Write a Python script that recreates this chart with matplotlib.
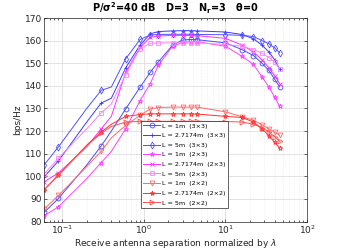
import matplotlib
matplotlib.use('Agg')
import matplotlib.pyplot as plt
from matplotlib.ticker import LogLocator, NullFormatter, MultipleLocator

# receive antenna separation normalized by lambda
x = [0.06, 0.09, 0.2, 0.3, 0.4, 0.6, 0.9, 1.2, 1.5, 2.25, 3, 3.75, 4.5,
     10, 16, 22, 28, 34, 40, 46]

# capacity in bps/Hz
blue_1m = [84, 90.2, 105, 113.4, 120, 129.8, 139.4, 146, 150.5, 158, 160.3, 160.5, 160.4,
           159, 156, 153.4, 150, 146.8, 143, 139.5]
blue_27 = [99.7, 106.8, 124, 132.4, 134.5, 148, 158, 163, 164, 164.3, 164.4, 164.4, 164.3,
           163.8, 162.7, 160.8, 158, 155, 151.5, 147.5]
blue_5m = [105, 113, 130, 138, 139.5, 152, 160.5, 162.5, 162.7, 162.8, 162.8, 162.8, 162.7,
           162.6, 162.3, 161.8, 160, 158.6, 156.8, 154.6]
mag_1m = [82.5, 86.5, 99, 106, 111, 121, 133.5, 141, 149, 157.5, 159.3, 159.5, 159.5,
          157.5, 153, 149.5, 144, 139.5, 135, 131]
mag_27 = [97.5, 101.5, 113, 121, 126.5, 146, 157, 161.5, 162, 162.3, 162.3, 162.3, 162.2,
          161, 158, 155, 151.5, 148, 144.5, 141]
mag_5m = [101, 108, 121, 128, 132, 145, 156.5, 158.8, 159, 159, 159, 159, 159,
          158.3, 157.5, 156, 154.5, 152.5, 150.5, 147.5]
red_1m = [85.5, 91.5, 104.3, 111, 117, 122.5, 127, 129.8, 130.4, 130.6, 130.6, 130.6, 130.6,
          128.5, 126.3, 124.8, 122.8, 121, 119.5, 118.2]
red_27 = [94, 100.5, 113.8, 119.5, 123, 126.5, 127.3, 127.6, 127.6, 127.6, 127.6, 127.6, 127.5,
          126.5, 126, 124, 121, 118, 115, 112.5]
red_5m = [94, 100.5, 113.5, 119, 122, 124, 124.3, 124.3, 124.3, 124.3, 124.3, 124.3, 124.3,
          124.2, 124, 123, 121.5, 119.5, 117.5, 115.5]

labels = ['L = 1m  (3\u00d73)', 'L = 2.7174m  (3\u00d73)', 'L = 5m  (3\u00d73)',
          'L = 1m  (2\u00d73)', 'L = 2.7174m  (2\u00d73)', 'L = 5m  (2\u00d73)',
          'L = 1m  (2\u00d72)', 'L = 2.7174m  (2\u00d72)', 'L = 5m  (2\u00d72)']
series = [blue_1m, blue_27, blue_5m, mag_1m, mag_27, mag_5m, red_1m, red_27, red_5m]

styles = [('#4a4aff', 'o'), ('#3a3aff', '+'), ('#5050ff', 'd'),
          ('#ff40ff', '*'), ('#ff30ff', 'x'), ('#ff80ff', 's'),
          ('#ff6a6a', 'v'), ('#ff3030', '*'), ('#ff5050', '>')]

fig = plt.figure(figsize=(3.39, 2.5), dpi=100)
ax = fig.add_axes([0.13, 0.114, 0.776, 0.814])

marks = [0, 1, 3, 5, 6, 7, 8, 9, 10, 11, 12, 13, 14, 15, 16, 17, 18, 19]
for y, lab, (c, m) in zip(series, labels, styles):
    ax.semilogx(x, y, color=c, marker=m, markersize=3.5, markerfacecolor='none',
                markeredgewidth=0.6, linewidth=0.7, label=lab, markevery=marks)

ax.set_xlim(0.06, 100)
ax.set_ylim(80, 170)
ax.yaxis.set_major_locator(MultipleLocator(10))
ax.xaxis.set_major_locator(LogLocator(base=10, numticks=10))
ax.xaxis.set_minor_locator(LogLocator(base=10, subs=range(2, 10), numticks=20))
ax.xaxis.set_minor_formatter(NullFormatter())

ax.grid(True, which='major', color='#d8d8d8', linewidth=0.5)
ax.grid(True, which='minor', axis='x', color='#e0e0e0', linewidth=0.4, linestyle=':')
ax.tick_params(which='both', direction='in', top=True, right=True,
               labelsize=6.5, colors='#262626', length=2.5, width=0.5, pad=1.5)
ax.tick_params(which='minor', length=1.5)
for sp in ax.spines.values():
    sp.set_linewidth(0.5)
    sp.set_color('#262626')

ax.set_xlabel('Receive antenna separation normalized by $\\lambda$', fontsize=6.5,
              color='#262626', labelpad=0.5)
ax.set_ylabel('bps/Hz', fontsize=6.5, color='#262626', labelpad=2)
ax.set_title('P/$\\mathbf{\\sigma^2}$=40 dB   D=3   N$_\\mathbf{r}$=3   $\\mathbf{\\theta}$=0',
             fontsize=7, fontweight='bold', pad=4)

leg = ax.legend(loc='lower left', bbox_to_anchor=(0.355, 0.05), fontsize=4.6,
                frameon=True, fancybox=False, edgecolor='#262626', framealpha=1,
                handlelength=2.6, handletextpad=0.4, borderpad=0.4, labelspacing=0.65)
leg.get_frame().set_linewidth(0.5)

fig.savefig('out.png', dpi=100)
